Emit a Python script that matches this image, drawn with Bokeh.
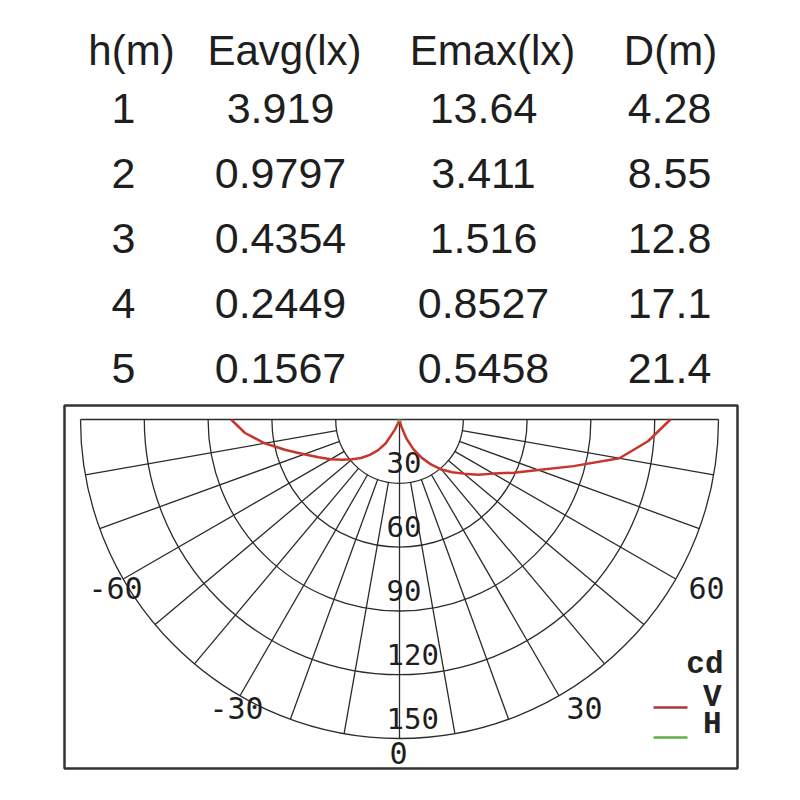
import numpy as np
from bokeh.plotting import figure
from bokeh.models import Range1d
from bokeh.core.properties import value
from bokeh.embed import file_html
from bokeh.resources import INLINE

# ---------------- data ----------------
headers = ["h(m)", "Eavg(lx)", "Emax(lx)", "D(m)"]
heights_m = [1, 2, 3, 4, 5]
eavg_lx = [3.919, 0.9797, 0.4354, 0.2449, 0.1567]
emax_lx = [13.64, 3.411, 1.516, 0.8527, 0.5458]
diam_m = [4.28, 8.55, 12.8, 17.1, 21.4]

angles_deg = [-90, -85, -80, -75, -70, -65, -60, -55, -50, -45, -40, -35, -30, -25,
              -20, -15, -10, -5, 0, 5, 10, 15, 20, 25, 30, 35, 40, 45, 50, 55, 60,
              65, 70, 75, 80, 85, 90]
v_cd = [79.2, 72.9, 64.4, 55.4, 47.8, 42.0, 37.4, 33.0, 29.1, 25.6, 21.7, 17.7, 12.9, 5.5,
        1.5, 0.5, 0.2, 0.1, 0.0, 0.1, 0.3, 3.5, 9.5, 15.4, 20.7, 25.8, 30.7, 35.1, 39.6, 45.3, 50.9,
        59.2, 69.5, 84.7, 105.0, 117.3, 127.4]
h_cd = [0.6, 0.6, 0.6, 0.6, 0.6, 0.6, 0.6, 0.6, 0.6, 0.6, 0.6, 0.6, 0.6, 0.6,
        0.6, 0.6, 0.6, 0.6, 0.6, 0.6, 0.6, 0.6, 0.6, 0.6, 0.6, 0.6, 0.6, 0.6, 0.6, 0.6, 0.6,
        0.6, 0.6, 0.6, 0.6, 0.6, 0.6]

ring_values = [30, 60, 90, 120, 150]
ring_labels = ["30", "60", "90", "120", "150"]
spoke_angles = [-80, -70, -60, -50, -40, -30, -20, -10, 10, 20, 30, 40, 50, 60, 70, 80]
angle_tick_labels = ["-60", "-30", "0", "30", "60"]

# ---------------- layout constants (page pixels) ----------------
W = 784
H = 792
col_x_values = [123, 280, 483, 669]
col_x_headers = [131, 284, 492, 670]
header_mid = 50
row_mid = [108, 173, 238, 303, 368]
angle_label_pos = [(115, 587), (236, 707), (398, 752), (584, 707), (706, 587)]
legend_text_pos = [(723, 664), (721, 697), (721, 724)]

CX, CY = 399.0, 419.0          # page px of polar centre
RMAX = 150.0
S = 319.0 / RMAX                # px per cd

def fx(px):
    return (px - CX) / S

def fy(py):
    return (CY - py) / S

INK = "#1e1e1e"
GRID = "#2b2b2b"

p = figure(width=W, height=H,
           x_range=Range1d(fx(0), fx(W)), y_range=Range1d(fy(H), fy(0)),
           output_backend="svg", toolbar_location=None, min_border=0,
           x_axis_location=None, y_axis_location=None)
p.grid.visible = False
p.outline_line_color = None
p.background_fill_color = "white"
p.border_fill_color = "white"

# ---------------- table ----------------
p.text(x=[fx(v) for v in col_x_headers], y=[fy(header_mid)] * 4, text=headers,
       text_font=value("Liberation Sans"), text_font_size="42px",
       text_align="center", text_baseline="middle", text_color=INK)

columns = [[str(v) for v in heights_m], [str(v) for v in eavg_lx],
           [str(v) for v in emax_lx], [str(v) for v in diam_m]]
for cx, vals in zip(col_x_values, columns):
    p.text(x=[fx(cx)] * len(vals), y=[fy(b) for b in row_mid], text=vals,
           text_font=value("Liberation Sans"), text_font_size="43px",
           text_align="center", text_baseline="middle", text_color=INK)

# ---------------- polar diagram ----------------
# frame box
p.quad(left=[fx(64)], right=[fx(737)], top=[fy(405)], bottom=[fy(768)],
       fill_color=None, line_color="#333333", line_width=2.5)

# concentric half circles
for r in ring_values:
    p.arc(x=0, y=0, radius=r, start_angle=np.pi, end_angle=2 * np.pi,
          line_color=GRID, line_width=1.3)

# spokes
th = np.radians(spoke_angles)
r0 = ring_values[0]
p.segment(x0=r0 * np.sin(th), y0=-r0 * np.cos(th),
          x1=RMAX * np.sin(th), y1=-RMAX * np.cos(th),
          line_color=GRID, line_width=1.3)
# horizontal diameter and vertical axis
p.segment(x0=[-RMAX, 0], y0=[0, 0], x1=[RMAX, 0], y1=[0, -RMAX],
          line_color=GRID, line_width=1.3)

# radial value labels
p.text(x=[fx(386)] * len(ring_values), y=[-r + 20.5 / S for r in ring_values],
       text=ring_labels, text_font=value("DejaVu Sans Mono"), text_font_size="29px",
       text_align="left", text_baseline="middle", text_color=INK)

# angle labels around the rim
p.text(x=[fx(a) for a, b in angle_label_pos], y=[fy(b) for a, b in angle_label_pos],
       text=angle_tick_labels, text_font=value("DejaVu Sans Mono"), text_font_size="30px",
       text_align="center", text_baseline="middle", text_color=INK)

# curves
ang = np.radians(angles_deg)
v = np.array(v_cd)
h = np.array(h_cd)
p.line(x=v * np.sin(ang), y=-v * np.cos(ang), line_color="#c8352c", line_width=2.5)
p.line(x=h * np.sin(ang), y=-h * np.cos(ang), line_color="#5fae4a", line_width=2.5)

# legend
p.text(x=[fx(a) for a, b in legend_text_pos], y=[fy(b) for a, b in legend_text_pos],
       text=["cd", "V", "H"], text_font=value("Liberation Mono"), text_font_size="31px",
       text_font_style="bold", text_align="right", text_baseline="middle",
       text_color="#222222")
p.segment(x0=[fx(653)], y0=[fy(707)], x1=[fx(687)], y1=[fy(707)],
          line_color="#b0353a", line_width=2.5)
p.segment(x0=[fx(653)], y0=[fy(737)], x1=[fx(687)], y1=[fy(737)],
          line_color="#5fae4a", line_width=2.5)

open("out.html", "w").write(file_html(p, INLINE))
